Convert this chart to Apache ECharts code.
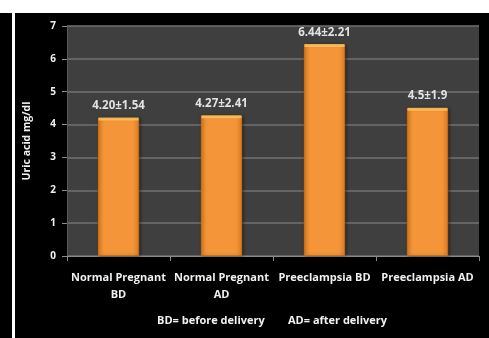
<!DOCTYPE html>
<html>
<head>
<meta charset="utf-8">
<script src="https://cdn.jsdelivr.net/npm/echarts@6/dist/echarts.min.js"></script>
<style>
  html, body { margin: 0; padding: 0; background: #000; }
  #chart { width: 489px; height: 338px; }
</style>
</head>
<body>
<div id="chart"></div>
<script>
// Serum uric acid by group (mean ± SD)
const categories = ['Normal Pregnant\nBD', 'Normal Pregnant\nAD', 'Preeclampsia BD', 'Preeclampsia AD'];
const meanValues = [4.20, 4.27, 6.44, 4.5];
const sdLabels = ['4.20±1.54', '4.27±2.41', '6.44±2.21', '4.5±1.9'];
const yTicks = [0, 1, 2, 3, 4, 5, 6, 7];

const font = '"Open Sans", "DejaVu Sans", sans-serif';

const barFill = new echarts.graphic.LinearGradient(0, 0, 1, 0, [
  { offset: 0, color: '#e27f22' },
  { offset: 0.15, color: '#f39538' },
  { offset: 0.85, color: '#f39538' },
  { offset: 1, color: '#df7c20' }
]);

const chart = echarts.init(document.getElementById('chart'), null, { renderer: 'canvas' });
chart.setOption({
  backgroundColor: '#000',
  animation: false,
  graphic: [
    { type: 'rect', left: 0, top: 0, shape: { width: 489, height: 13 }, style: { fill: '#fff' }, z: 0 },
    { type: 'rect', left: 12, top: 13, shape: { width: 3, height: 325 }, style: { fill: '#fff' }, z: 0 },
    {
      type: 'text', left: 157, top: 315,
      style: { text: 'BD= before delivery', fill: '#f2f2f2', font: 'bold 11px ' + font }
    },
    {
      type: 'text', left: 288, top: 315,
      style: { text: 'AD= after delivery', fill: '#f2f2f2', font: 'bold 11px ' + font }
    }
  ],
  grid: {
    left: 67, right: 10, top: 26, bottom: 82,
    show: true, backgroundColor: '#3f3f3f', borderWidth: 0
  },
  xAxis: {
    type: 'category',
    data: categories,
    axisLine: { show: true, lineStyle: { color: '#8a8a8a', width: 1 } },
    axisTick: { show: true, length: 5, alignWithLabel: false, lineStyle: { color: '#8a8a8a' } },
    axisLabel: {
      color: '#f0f0f0', fontFamily: font, fontWeight: 'bold', fontSize: 11,
      lineHeight: 17, margin: 13, interval: 0
    }
  },
  yAxis: {
    type: 'value',
    min: yTicks[0], max: yTicks[yTicks.length - 1], interval: 1,
    name: 'Uric acid mg/dl',
    nameLocation: 'middle', nameGap: 34, nameRotate: 90,
    nameTextStyle: { color: '#f0f0f0', fontFamily: font, fontWeight: 'bold', fontSize: 10.5 },
    axisLine: { show: true, lineStyle: { color: '#5a5a5a' } },
    axisTick: { show: true, length: 5, lineStyle: { color: '#8a8a8a' } },
    axisLabel: { color: '#f0f0f0', fontFamily: font, fontWeight: 'bold', fontSize: 10, margin: 11 },
    splitLine: { show: true, lineStyle: { color: '#727272', width: 1.5 } }
  },
  series: [{
    type: 'bar',
    data: meanValues,
    barWidth: '40%',
    itemStyle: {
      color: barFill,
      borderColor: '#c96c18', borderWidth: 0.5,
      shadowColor: 'rgba(0,0,0,0.5)', shadowBlur: 3, shadowOffsetX: 1
    },
    label: {
      show: true, position: 'top', distance: 6,
      formatter: p => sdLabels[p.dataIndex],
      color: '#e2e2e2', fontFamily: font, fontWeight: 'bold', fontSize: 11.5
    }
  }, {
    // thin bright bevel along each bar's top edge
    type: 'scatter',
    data: meanValues.map((v, i) => [i, v]),
    symbol: 'rect',
    symbolSize: [40, 3],
    symbolOffset: [0, 1],
    itemStyle: { color: '#ffc660' },
    silent: true, z: 3
  }]
});
</script>
</body>
</html>
